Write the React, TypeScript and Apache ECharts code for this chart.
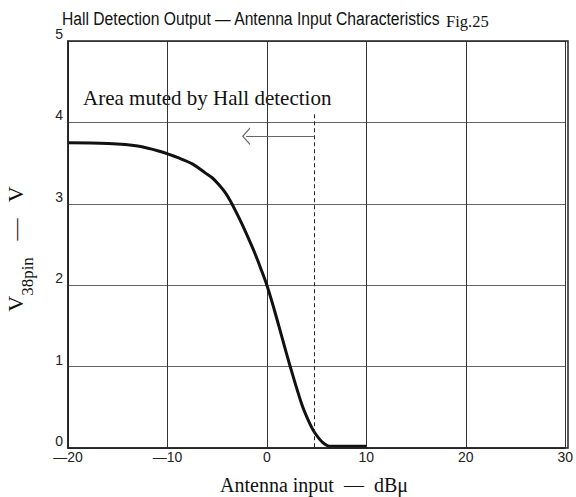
import React, { useEffect, useRef } from "react";
import * as echarts from "echarts";

const inputDbu = [-20, -16, -13, -10.8, -8.8, -7.5, -6.2, -5.5, -4.8, -4.2, -3.7, -3.1, -2.5, -1.8, -1.2, -0.6, 0, 0.6, 1.2, 2.3, 3.5, 4.2, 4.8, 5.6, 6.4, 10];
const v38pin = [3.75, 3.74, 3.71, 3.645, 3.56, 3.49, 3.38, 3.32, 3.23, 3.14, 3.04, 2.9, 2.75, 2.56, 2.39, 2.2, 2.0, 1.76, 1.5, 1.02, 0.54, 0.33, 0.19, 0.07, 0.02, 0.02];

const xTicks = { min: -20, max: 30, interval: 10 };
const yTicks = { min: 0, max: 5, interval: 1 };

const muteThreshold = 4.8; // dashed line position (dBμ)
const dashedTop = 4.1;
const arrowY = 3.83;
const arrowTip = -2.1;

const titleMain = "Hall Detection Output — Antenna Input Characteristics";
const titleFig = "Fig.25";
const annotation = "Area muted by Hall detection";
const xName = "Antenna input  —  dBμ";

const SERIF = "'Liberation Serif', 'Times New Roman', serif";
const SANS = "'Liberation Sans', Arial, sans-serif";

export default function App() {
  const ref = useRef<HTMLDivElement>(null);
  useEffect(() => {
    if (!ref.current) return;
    const chart = echarts.init(ref.current, undefined, { renderer: "svg" });
    const data = inputDbu.map((x, i) => [x, v38pin[i]]);
    chart.setOption({
      animation: false,
      backgroundColor: "#ffffff",
      grid: { left: 68, right: 8, top: 41, bottom: 49, show: false },
      xAxis: {
        type: "value",
        min: xTicks.min,
        max: xTicks.max,
        interval: xTicks.interval,
        axisLine: { show: true, onZero: false, lineStyle: { color: "#222", width: 1.5 } },
        axisTick: { show: false },
        splitLine: { show: true, lineStyle: { color: "#333", width: 1 } },
        axisLabel: {
          fontFamily: SANS,
          fontSize: 14,
          color: "#222",
          margin: 2,
          formatter: (v: number) => String(v).replace("-", "\u2014"),
        },
      },
      yAxis: {
        type: "value",
        min: yTicks.min,
        max: yTicks.max,
        interval: yTicks.interval,
        axisLine: { show: true, onZero: false, lineStyle: { color: "#222", width: 1.5 } },
        axisTick: { show: false },
        splitLine: { show: true, lineStyle: { color: "#666", width: 1 } },
        axisLabel: {
          fontFamily: SANS,
          fontSize: 14,
          color: "#222",
          margin: 5,
          verticalAlign: "bottom",
        },
      },
      series: [
        {
          type: "line",
          data,
          smooth: 0.35,
          symbol: "none",
          lineStyle: { color: "#111", width: 3 },
          markLine: {
            silent: true,
            symbol: "none",
            label: { show: false },
            data: [
              [
                { coord: [muteThreshold, dashedTop], lineStyle: { type: [4, 3], color: "#222", width: 1 } },
                { coord: [muteThreshold, 0] },
              ],
              [
                {
                  coord: [muteThreshold, arrowY],
                  symbol: "none",
                  lineStyle: { type: "solid", color: "#666", width: 1.2 },
                },
                {
                  coord: [arrowTip, arrowY],
                  symbol: "path://M5,0 L10,10 L9,10 L5,2 L1,10 L0,10 Z",
                  symbolSize: [18, 8],
                },
              ],
            ],
          },
        },
      ],
      graphic: [
        {
          type: "rect",
          shape: { x: 68, y: 41, width: 500, height: 407 },
          style: { fill: "none", stroke: "#222", lineWidth: 1.5 },
          silent: true,
          z: 100,
        },
        {
          type: "text",
          x: 62,
          y: 19,
          scaleX: 0.87,
          style: {
            text: titleMain,
            fontFamily: SANS,
            fontSize: 18,
            fill: "#111",
            verticalAlign: "middle",
          },
        },
        {
          type: "text",
          x: 446,
          y: 21,
          style: {
            text: titleFig,
            fontFamily: SERIF,
            fontSize: 16.5,
            fill: "#111",
            verticalAlign: "middle",
          },
        },
        {
          type: "text",
          x: 83,
          y: 98,
          style: { text: annotation, fontFamily: SERIF, fontSize: 21, fill: "#111", verticalAlign: "middle" },
        },
        {
          type: "text",
          x: 314,
          y: 485,
          style: {
            text: xName,
            fontFamily: SERIF,
            fontSize: 20,
            fill: "#111",
            align: "center",
            verticalAlign: "middle",
          },
        },
        {
          type: "text",
          x: 20,
          y: 249,
          rotation: Math.PI / 2,
          style: {
            text: "{v|V}{s|38pin}{v|   —   V}",
            align: "center",
            verticalAlign: "middle",
            rich: {
              v: { fontFamily: SERIF, fontSize: 22, fill: "#111", verticalAlign: "top", lineHeight: 24 },
              s: { fontFamily: SERIF, fontSize: 17, fill: "#111", verticalAlign: "bottom", lineHeight: 31 },
            },
          },
        },
      ],
    });
    return () => chart.dispose();
  }, []);
  return <div ref={ref} style={{ width: 576, height: 497, position: "absolute", left: 0, top: 0 }} />;
}
